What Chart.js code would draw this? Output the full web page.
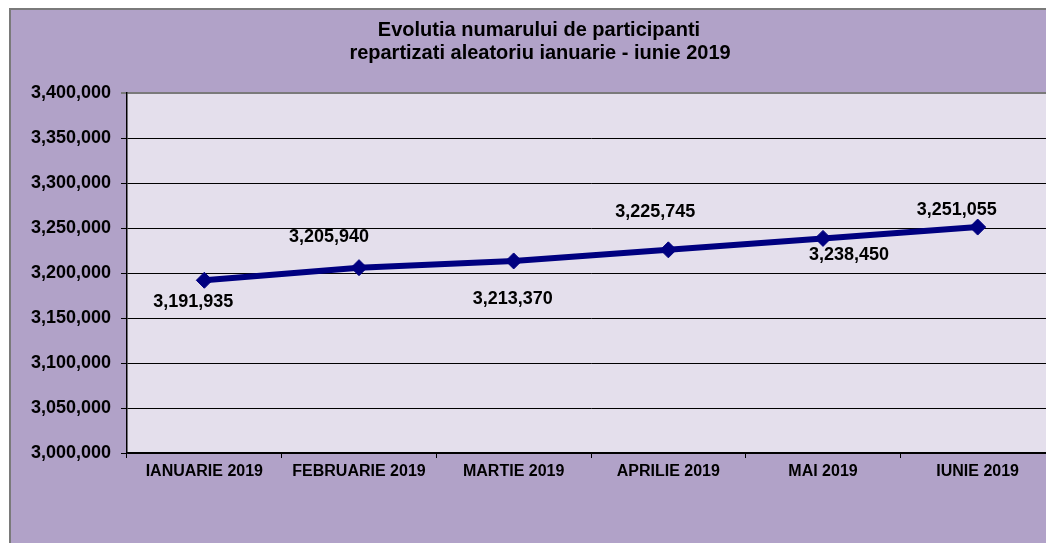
<!DOCTYPE html>
<html>
<head>
<meta charset="utf-8">
<script src="https://cdn.jsdelivr.net/npm/chart.js@4"></script>
<style>
  html, body { margin: 0; padding: 0; overflow: hidden; background: #fff; }
  #wrap { position: absolute; left: 0; top: 0; width: 1070px; height: 560px; }
</style>
</head>
<body>
<div id="wrap"><canvas id="myChart" width="1070" height="560"></canvas></div>
<script>
var months = ["IANUARIE 2019", "FEBRUARIE 2019", "MARTIE 2019", "APRILIE 2019", "MAI 2019", "IUNIE 2019"];
var participants = [3191935, 3205940, 3213370, 3225745, 3238450, 3251055];
var titleLines = ["Evolutia numarului de participanti", "repartizati aleatoriu ianuarie - iunie 2019"];

var FONT = "'Liberation Sans', Arial, sans-serif";
var fmt = function (v) { return v.toLocaleString('en-US'); };

// where each value label sits relative to its point (like the Excel original)
var labelOffsets = [[-11, 22], [-30, -31], [-1, 38], [-13, -38], [26, 17], [-21, -17]];

var backdrop = {
  id: 'backdrop',
  beforeDraw: function (chart) {
    var c = chart.ctx, a = chart.chartArea;
    c.save();
    c.fillStyle = '#ffffff';
    c.fillRect(0, 0, chart.width, chart.height);
    c.fillStyle = '#b1a2c8';
    c.fillRect(9, 8, chart.width, chart.height);
    c.strokeStyle = '#7a7a7a';
    c.lineWidth = 2;
    c.strokeRect(10, 9, chart.width + 10, chart.height + 10);
    c.fillStyle = '#e4dfec';
    c.fillRect(a.left, a.top, a.right - a.left, a.bottom - a.top);
    // title
    c.fillStyle = '#000';
    c.font = 'bold 20px ' + FONT;
    c.textAlign = 'center';
    c.textBaseline = 'alphabetic';
    c.fillText(titleLines[0], 539, 36);
    c.fillText(titleLines[1], 540, 59);
    c.restore();
  }
};

var valueLabels = {
  id: 'valueLabels',
  afterDatasetsDraw: function (chart) {
    var c = chart.ctx;
    var meta = chart.getDatasetMeta(0);
    c.save();
    c.font = 'bold 18px ' + FONT;
    c.fillStyle = '#000';
    c.textAlign = 'center';
    c.textBaseline = 'middle';
    meta.data.forEach(function (pt, i) {
      var o = labelOffsets[i];
      c.fillText(fmt(participants[i]), pt.x + o[0], pt.y + o[1]);
    });
    c.restore();
  }
};

var ctx = document.getElementById("myChart").getContext('2d');
var myChart = new Chart(ctx, {
  type: 'line',
  data: {
    labels: months,
    datasets: [{
      data: participants,
      borderColor: '#000080',
      backgroundColor: '#000080',
      borderWidth: 6,
      tension: 0,
      pointStyle: 'rectRot',
      pointRadius: 8,
      pointBorderWidth: 1,
      pointBackgroundColor: '#000080',
      pointBorderColor: '#000080'
    }]
  },
  options: {
    responsive: false,
    devicePixelRatio: 1,
    animation: false,
    layout: { padding: { top: 93, left: 0, right: 15, bottom: 0 } },
    plugins: {
      legend: { display: false },
      title: { display: false },
      tooltip: { enabled: false }
    },
    scales: {
      x: {
        offset: true,
        afterFit: function (s) { s.height = 107; },
        grid: {
          offset: true,
          drawOnChartArea: false,
          color: '#000',
          tickLength: 5
        },
        border: { color: '#000', width: 1.5 },
        ticks: {
          color: '#000',
          padding: 4,
          maxRotation: 0,
          font: { family: FONT, size: 16, weight: 'bold' }
        }
      },
      y: {
        min: 3000000,
        max: 3400000,
        afterFit: function (s) { s.width = 127; },
        grid: {
          color: function (c) { return c.tick && c.tick.value === 3400000 ? '#7a7a7a' : '#000'; },
          lineWidth: function (c) { return c.tick && c.tick.value === 3400000 ? 2 : 1; },
          tickLength: 6
        },
        border: { color: '#000', width: 1.5 },
        ticks: {
          stepSize: 50000,
          color: '#000',
          padding: 10,
          font: { family: FONT, size: 18, weight: 'bold' },
          callback: function (v) { return fmt(v); }
        }
      }
    }
  },
  plugins: [backdrop, valueLabels]
});
</script>
</body>
</html>
